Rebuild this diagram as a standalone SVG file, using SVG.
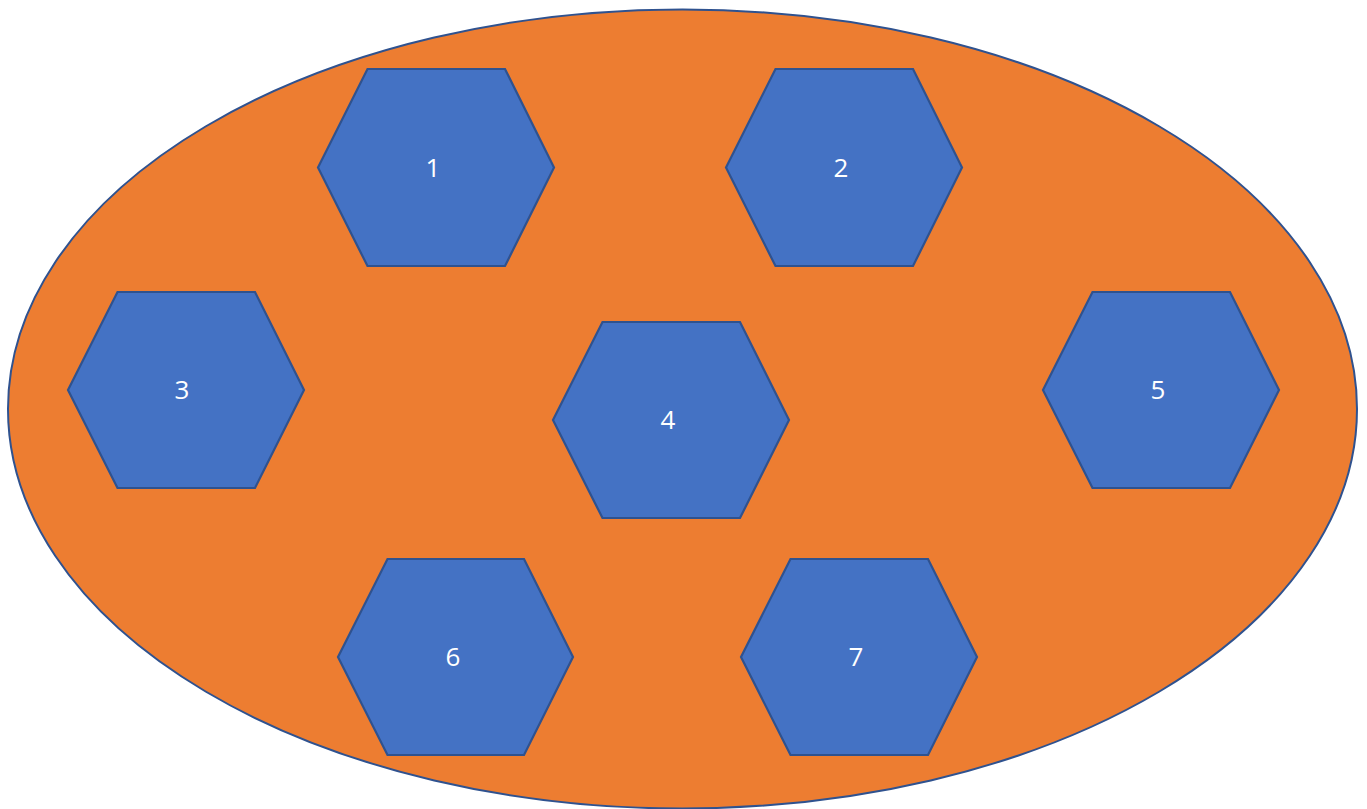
<svg xmlns="http://www.w3.org/2000/svg" width="1367" height="809" viewBox="0 0 1367 809">
<style>
.bg{fill:#ED7D31;stroke:#2F528F;stroke-width:2}
.hex{fill:#4472C4;stroke:#2F528F;stroke-width:2.2}
.lbl{fill:#FFFFFF;font-family:"Open Sans","Liberation Sans",sans-serif;font-size:26px;text-anchor:middle;dominant-baseline:central}
</style>
<rect width="1367" height="809" fill="#FFFFFF"/>
<g id="container"><ellipse class="bg" cx="682.5" cy="409" rx="674.5" ry="399.5"/></g>
<g id="node1"><polygon class="hex" points="318,167.5 367.5,69 505,69 554,167.5 505,266 367.5,266"/><text class="lbl" x="433" y="167">1</text></g>
<g id="node2"><polygon class="hex" points="726,167.5 775.5,69 913,69 962,167.5 913,266 775.5,266"/><text class="lbl" x="841" y="167">2</text></g>
<g id="node3"><polygon class="hex" points="68,390 117.5,292 255,292 304,390 255,488 117.5,488"/><text class="lbl" x="182" y="389">3</text></g>
<g id="node4"><polygon class="hex" points="553,420 602.5,322 740,322 789,420 740,518 602.5,518"/><text class="lbl" x="668" y="419">4</text></g>
<g id="node5"><polygon class="hex" points="1043,390 1092.5,292 1230,292 1279,390 1230,488 1092.5,488"/><text class="lbl" x="1158" y="389">5</text></g>
<g id="node6"><polygon class="hex" points="338,657 387.5,559 524,559 573,657 524,755 387.5,755"/><text class="lbl" x="453" y="656">6</text></g>
<g id="node7"><polygon class="hex" points="741,657 790.5,559 928,559 977,657 928,755 790.5,755"/><text class="lbl" x="856" y="656">7</text></g>
<g id="connectors"></g>
</svg>
